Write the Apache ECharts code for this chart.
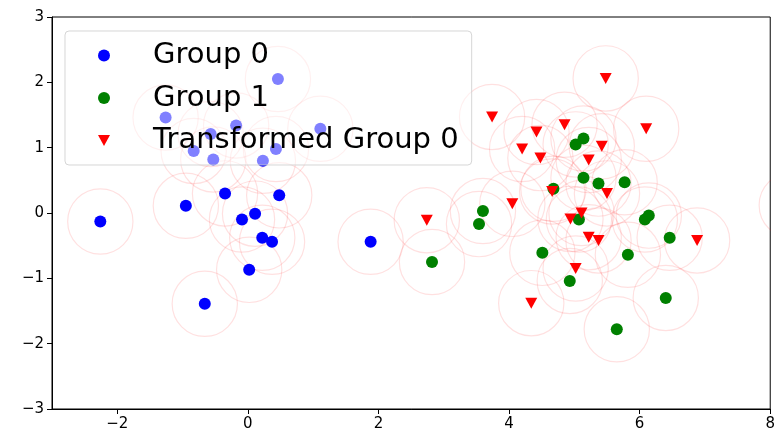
<!DOCTYPE html>
<html>
<head>
<meta charset="utf-8">
<script src="https://cdn.jsdelivr.net/npm/echarts@6/dist/echarts.min.js"></script>
<style>
  html, body { margin: 0; padding: 0; background: #fff; }
  #chart { width: 778px; height: 445px; }
</style>
</head>
<body>
<div id="chart"></div>
<script>
// Group 0
var group0X = [-2.26, -0.95, -0.35, 0.48, -0.09, 0.11, 0.22, 0.37, 0.02, -0.66, 1.88, 0.46, -1.26, -0.18, -0.57, 1.11, -0.83, 0.43, -0.53, 0.23]
var group0Y = [-0.13, 0.11, 0.30, 0.27, -0.10, -0.01, -0.38, -0.44, -0.87, -1.39, -0.44, 2.05, 1.46, 1.34, 1.21, 1.29, 0.95, 0.98, 0.82, 0.80]
// Group 1 (最后一个点在坐标范围外，只露出圆圈)
var group1X = [5.02, 5.14, 5.14, 5.37, 5.77, 4.68, 3.60, 3.54, 2.82, 4.51, 5.07, 4.93, 5.82, 6.08, 6.14, 6.46, 6.40, 5.65, 8.33]
var group1Y = [1.05, 1.14, 0.54, 0.45, 0.47, 0.37, 0.03, -0.17, -0.75, -0.61, -0.10, -1.04, -0.64, -0.10, -0.04, -0.38, -1.30, -1.78, 0.12]
// Transformed Group 0
var transX = [5.48, 3.74, 4.85, 4.42, 6.10, 4.20, 5.42, 4.48, 5.22, 4.66, 5.50, 4.05, 2.74, 4.94, 5.11, 5.22, 5.37, 6.88, 5.02, 4.34]
var transY = [2.06, 1.47, 1.35, 1.24, 1.29, 0.98, 1.02, 0.84, 0.81, 0.33, 0.30, 0.14, -0.11, -0.09, 0.00, -0.37, -0.42, -0.42, -0.85, -1.38]

var seriesNames = ['Group 0', 'Group 1', 'Transformed Group 0']
var xTicks = [-2, 0, 2, 4, 6, 8]
var circleRadius = 0.5

var triangleDown = 'path://M0,0 L10,0 L5,9.2 Z'
var font = 'DejaVu Sans'

function zip(xs, ys) {
  return xs.map(function (x, i) { return [x, ys[i]] })
}
function minus(v) {
  return String(v).replace('-', '\u2212')
}

var group0 = zip(group0X, group0Y)
var group1 = zip(group1X, group1Y)
var trans = zip(transX, transY)
var circles = group0.concat(group1, trans)

var chart = echarts.init(document.getElementById('chart'))
var option = {
  animation: false,
  grid: {
    left: 52, right: 7, top: 17, bottom: 36,
    show: true, borderColor: '#000', borderWidth: 1
  },
  legend: {
    data: [
      { name: seriesNames[0], icon: 'circle' },
      { name: seriesNames[1], icon: 'circle' },
      { name: seriesNames[2], icon: triangleDown }
    ],
    orient: 'vertical',
    left: 65,
    top: 31,
    padding: [10, 13, 10, 33],
    itemGap: 13.5,
    itemWidth: 12,
    itemHeight: 12,
    backgroundColor: 'rgba(255,255,255,0.5)',
    borderColor: 'rgba(204,204,204,0.8)',
    borderWidth: 1,
    borderRadius: 4,
    textStyle: {
      fontFamily: font,
      fontSize: 29,
      lineHeight: 29,
      color: '#000',
      padding: [0, 0, 0, 38]
    }
  },
  xAxis: {
    type: 'value',
    min: -3,
    max: 8,
    splitLine: { show: false },
    axisLine: { show: true, onZero: false, lineStyle: { color: '#000', width: 1 } },
    axisTick: { show: true, length: 5, customValues: xTicks, lineStyle: { color: '#000' } },
    axisLabel: {
      customValues: xTicks,
      margin: 8,
      fontFamily: font,
      fontSize: 15,
      color: '#000',
      formatter: minus
    }
  },
  yAxis: {
    type: 'value',
    min: -3,
    max: 3,
    interval: 1,
    splitLine: { show: false },
    axisLine: { show: true, onZero: false, lineStyle: { color: '#000', width: 1 } },
    axisTick: { show: true, length: 5, lineStyle: { color: '#000' } },
    axisLabel: {
      margin: 8,
      fontFamily: font,
      fontSize: 15,
      color: '#000',
      formatter: minus
    }
  },
  series: [
    {
      // 每个点外面的淡红色圆圈
      type: 'custom',
      name: 'circles',
      clip: true,
      data: circles,
      z: 1,
      renderItem: function (params, api) {
        var c = api.coord([api.value(0), api.value(1)])
        var s = api.size([circleRadius * 2, circleRadius * 2])
        return {
          type: 'circle',
          shape: { cx: c[0], cy: c[1], r: s[0] / 2 },
          style: { fill: 'none', stroke: 'rgba(255,0,0,0.12)', lineWidth: 1.2 }
        }
      }
    },
    {
      name: seriesNames[0],
      type: 'scatter',
      data: group0,
      symbol: 'circle',
      symbolSize: 12,
      itemStyle: { color: '#0000ff', opacity: 1 },
      z: 2
    },
    {
      name: seriesNames[1],
      type: 'scatter',
      data: group1,
      symbol: 'circle',
      symbolSize: 12,
      itemStyle: { color: '#008000', opacity: 1 },
      z: 2
    },
    {
      name: seriesNames[2],
      type: 'scatter',
      data: trans,
      symbol: triangleDown,
      symbolSize: [12, 11],
      itemStyle: { color: '#ff0000', opacity: 1 },
      z: 2
    }
  ]
}
chart.setOption(option)
</script>
</body>
</html>
